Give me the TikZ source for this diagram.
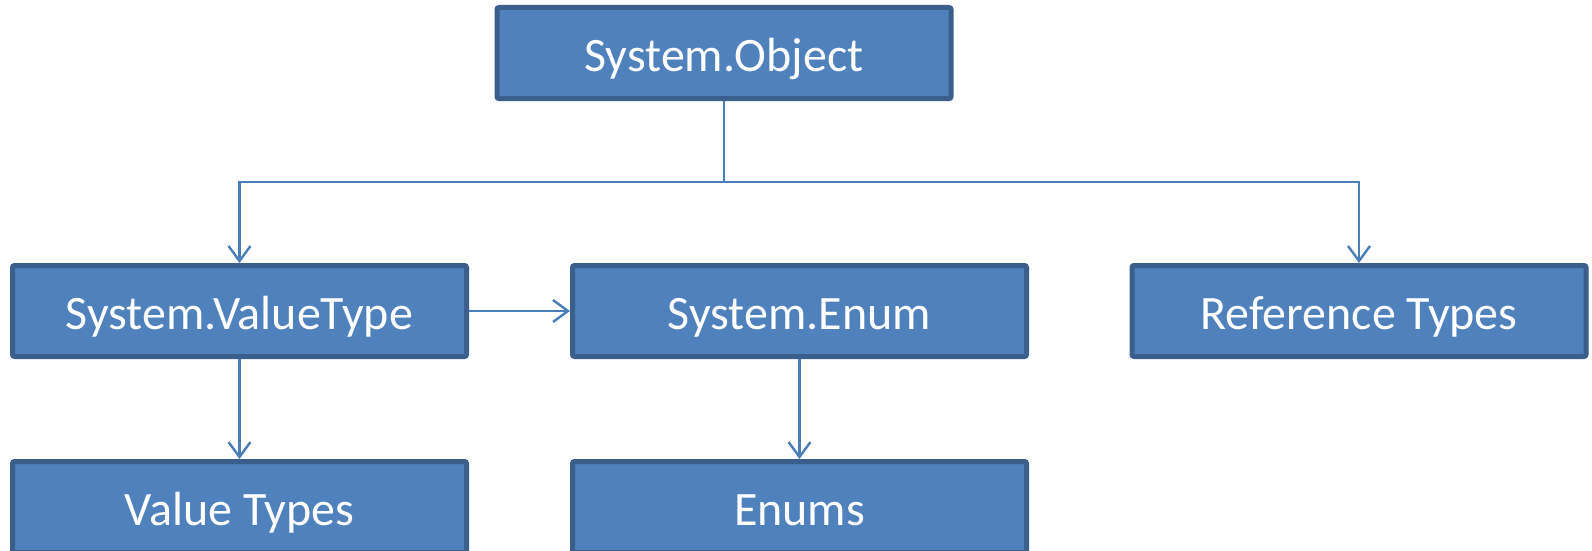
\documentclass[tikz,border=0pt]{standalone}
\usepackage{fontspec}
\setmainfont{Carlito}
\usetikzlibrary{arrows.meta}
\definecolor{boxfill}{HTML}{4F81BD}
\definecolor{boxline}{HTML}{3A5F8D}
\definecolor{linkcol}{HTML}{4A7EBB}
\tikzset{
  typebox/.style={draw=boxline, fill=boxfill, line width=5pt, rounded corners=2pt,
    minimum width=454pt, minimum height=91pt, inner sep=0pt,
    text height=41pt, text depth=4pt,
    text=white, font=\fontsize{48}{57}\selectfont},
  link/.style={draw=linkcol, line width=2.4pt},
  linkarrow/.style={link, -{Straight Barb[length=15pt,width=22pt,line width=2.4pt]}}
}
\begin{document}
\begin{tikzpicture}[x=1pt,y=-1pt]
  \useasboundingbox (0,0) rectangle (1592,551);
  \clip (0,0) rectangle (1592,551);
  % type hierarchy boxes
  \node[typebox] (obj)   at (724,53)    {System.Object};
  \node[typebox] (vt)    at (239.5,311) {System.ValueType};
  \node[typebox] (enum)  at (799.5,311) {System.Enum};
  \node[typebox] (ref)   at (1359,311)  {Reference Types};
  \node[typebox] (vts)   at (239.5,507) {Value Types};
  \node[typebox] (enums) at (799.5,507) {Enums};
  % branching point below System.Object
  \coordinate (bus) at (724,182);
  \draw[link] (obj.south) -- (bus);
  \draw[linkarrow] (bus) -| (vt.north);
  \draw[linkarrow] (bus) -| (ref.north);
  \draw[linkarrow] (vt.east) -- (enum.west);
  \draw[linkarrow] (vt.south) -- (vts.north);
  \draw[linkarrow] (enum.south) -- (enums.north);
\end{tikzpicture}
\end{document}
